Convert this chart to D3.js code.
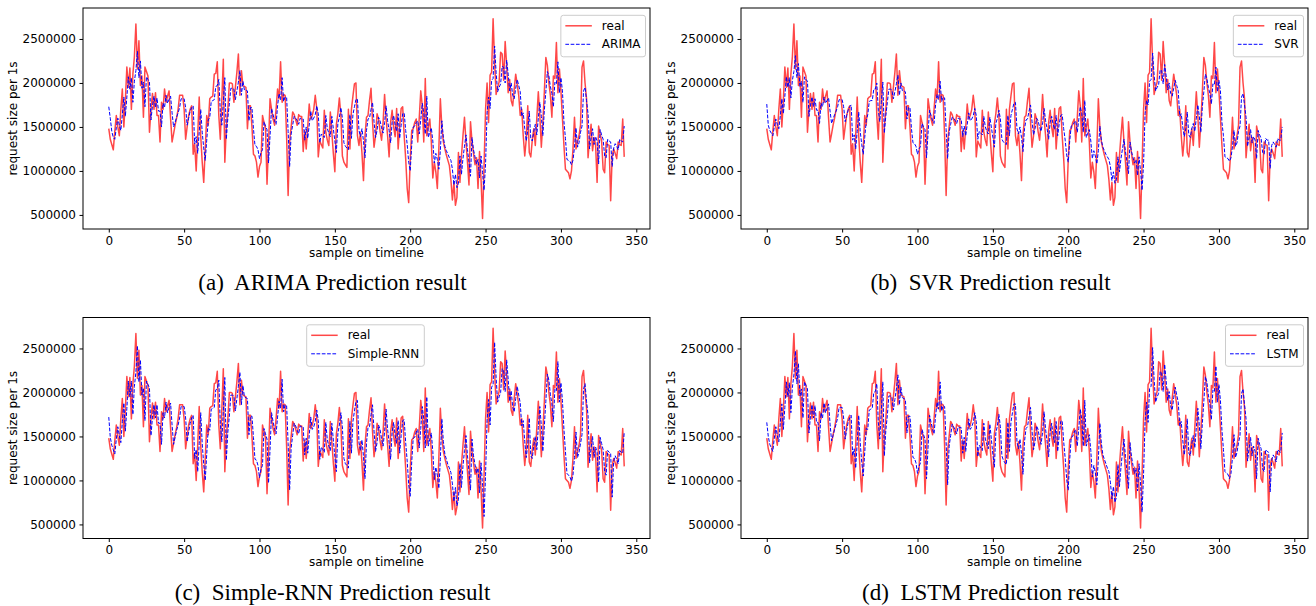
<!DOCTYPE html>
<html>
<head>
<meta charset="utf-8">
<script src="https://cdn.jsdelivr.net/npm/d3@7"></script>
<style>
  body { margin: 0; background: #fff; }
  text { font-family: "DejaVu Sans", sans-serif; }
</style>
</head>
<body>
<svg id="chart" width="1316" height="606"></svg>
<script>
// request size per 1s, in thousands (one value per sample)
var realK = [
  1480,1360,1300,1240,1450,1630,1500,1400,1700,1930,
  1500,1800,2180,1950,2170,1700,2100,2300,2670,2160,
  2480,1970,2080,1610,2180,2130,2080,1440,1700,1880,
  1700,1890,1630,1630,1330,1780,1700,1930,1780,1850,
  1910,1600,1330,1420,1520,1600,1700,1860,1860,1860,
  1700,1360,1500,1630,1700,1740,1190,1310,1000,1400,
  1840,1400,1100,870,1250,1630,1520,1820,1840,1850,
  2100,2110,2240,1630,1360,1800,2270,1100,1500,1700,
  2000,2000,1990,1780,1950,2120,2330,1860,2140,1970,1960,
  1950,1480,1740,1740,1500,1190,1170,1100,930,1050,
  1100,1630,1550,1480,850,1300,1820,1700,1590,1520,
  1700,1930,1820,2240,1780,1870,1860,1390,720,1330,
  1500,1670,1640,1580,1520,1640,1620,1620,1220,1460,
  1250,1500,1760,1590,1630,1700,1860,1710,1160,1340,
  1300,1260,1690,1440,1350,1290,1670,1440,1200,990,
  1530,1650,1830,1630,1170,1100,1070,1040,1700,1250,1700,
  1850,1990,2000,1400,1290,1440,1200,890,1400,1610,
  1630,1800,1940,1560,1270,1400,1650,1590,1450,1350,
  1550,1870,1590,1400,1160,1550,1690,1500,1390,1710,
  1250,1500,1710,1730,1400,1140,800,640,1120,1460,
  1480,1550,1590,1330,1600,1910,1740,1330,2050,1400,
  1500,1590,1330,920,1100,990,800,1250,1820,1500,
  1330,1250,1180,1120,1060,900,670,870,610,700,1210,
  870,1170,1400,1610,1330,1100,840,1560,1330,1200,
  1070,1150,800,1220,900,460,1060,1700,2000,1550,
  2090,2120,2730,2230,1870,1950,2010,2350,2330,2030,
  2470,2200,1890,2040,1800,1740,1930,2100,1980,1860,
  1630,1700,1400,1170,1360,1740,1210,1160,1350,1480,
  1290,1600,1900,1630,1270,1550,1900,2290,2200,2000,
  1860,1610,2080,2050,2460,1890,2160,1910,1600,1290,
  1020,1000,980,910,1000,1250,1610,1250,1330,1400,
  1520,2180,2250,2000,1820,1150,1360,1530,1230,1380,
  1300,870,1510,1420,1340,1020,980,1330,1300,1290,
  660,1170,1250,1200,1140,1330,1300,1290,1590,1160
];

var arimaK = [
  1730,1600,1450,1380,1360,1490,1600,1520,1460,1640,
  1840,1620,1840,2070,1930,2060,1780,2020,2140,2360,
  2060,2250,1940,2010,1730,2070,2040,2010,1580,1740,
  1850,1720,1830,1680,1680,1500,1770,1720,1860,1770,
  1810,1850,1660,1500,1550,1610,1660,1720,1820,1820,
  1820,1720,1520,1600,1680,1720,1740,1310,1390,1200,
  1440,1700,1440,1260,1120,1350,1580,1610,1790,1800,
  1810,1960,1970,2040,1680,1520,1780,2060,1360,1600,
  1760,1940,1940,1930,1810,1910,2010,2140,1860,2020,1920,
  1920,1910,1570,1720,1720,1480,1290,1280,1240,1140,
  1210,1240,1560,1510,1470,1090,1400,1710,1640,1570,
  1530,1740,1880,1810,2060,1790,1840,1840,1450,1050,
  1420,1520,1620,1600,1570,1530,1600,1590,1590,1350,
  1500,1370,1520,1680,1570,1600,1640,1740,1650,1320,
  1420,1400,1380,1630,1480,1430,1390,1620,1480,1340,
  1210,1540,1610,1720,1600,1320,1280,1260,1240,1640,1370,
  1640,1730,1810,1820,1460,1390,1480,1340,1150,1460,
  1590,1600,1700,1780,1560,1380,1460,1610,1570,1490,
  1430,1550,1740,1570,1460,1320,1550,1630,1520,1450,
  1650,1370,1520,1650,1660,1460,1300,1100,1000,1290,
  1500,1510,1550,1570,1420,1580,1770,1660,1420,1850,
  1380,1440,1490,1340,1090,1200,1130,1020,1230,1570,
  1380,1280,1230,1190,1150,1120,1020,840,960,810,860,
  1170,960,1140,1280,1410,1240,1100,940,1380,1240,
  1160,1080,1130,920,1170,980,780,1080,1660,1840,
  1710,2030,2050,2420,2120,1900,1950,1990,2190,2180,
  2000,2260,2100,1910,2000,1860,1820,1940,2040,1970,
  1900,1620,1660,1480,1340,1460,1680,1370,1340,1450,
  1530,1410,1600,1780,1620,1400,1690,1900,2130,2080,
  1960,1880,1730,2010,1990,2240,1890,2060,1910,1560,
  1370,1130,1120,1110,1070,1120,1270,1490,1270,1320,
  1440,1510,1910,1950,1800,1650,1250,1380,1480,1300,
  1390,1340,1080,1470,1410,1360,1170,1150,1360,1340,
  1330,1050,1260,1310,1280,1240,1360,1340,1330,1510
];

var svrK = [
  1760,1520,1460,1430,1400,1500,1590,1530,1480,1630,
  1820,1650,1850,2070,1950,2060,1830,2030,2130,2310,
  2060,2220,1960,2020,1780,2070,2040,2020,1620,1750,
  1840,1730,1820,1690,1690,1540,1770,1730,1840,1770,
  1800,1830,1680,1540,1590,1640,1680,1730,1810,1810,
  1810,1730,1560,1630,1690,1730,1750,1350,1410,1250,
  1450,1670,1450,1300,1190,1380,1570,1640,1790,1800,
  1800,1930,1930,2000,1690,1560,1780,2010,1430,1630,
  1780,1930,1930,1920,1820,1900,1990,2090,1860,2000,1910,
  1910,1900,1590,1720,1720,1480,1320,1310,1280,1190,
  1250,1280,1540,1500,1470,1150,1430,1690,1630,1570,
  1540,1750,1870,1810,2020,1790,1840,1830,1470,1140,
  1440,1530,1610,1600,1570,1540,1600,1590,1590,1390,
  1510,1400,1530,1660,1570,1590,1630,1710,1630,1360,
  1450,1430,1410,1620,1500,1450,1420,1610,1500,1380,
  1270,1540,1600,1690,1590,1360,1330,1310,1300,1630,1400,
  1630,1700,1770,1780,1480,1420,1500,1380,1220,1480,
  1580,1590,1680,1750,1560,1410,1480,1600,1570,1500,
  1450,1550,1710,1570,1480,1360,1550,1620,1530,1470,
  1630,1400,1530,1630,1640,1480,1350,1180,1100,1340,
  1510,1520,1550,1570,1440,1580,1730,1650,1440,1800,
  1380,1430,1470,1340,1140,1230,1170,1080,1230,1510,
  1350,1270,1230,1190,1160,1130,1050,890,990,860,900,
  1160,990,1140,1250,1360,1220,1100,970,1330,1220,
  1150,1090,1130,950,1160,1000,780,1080,1650,1800,
  1750,2020,2040,2340,2090,1910,1950,1980,2150,2140,
  1990,2210,2080,1920,2000,1880,1850,1940,2030,1970,
  1910,1620,1650,1500,1390,1480,1670,1410,1380,1480,
  1540,1450,1600,1750,1620,1440,1730,1900,2100,2050,
  1950,1880,1760,1990,1980,2180,1900,2030,1910,1550,
  1400,1160,1150,1140,1110,1150,1280,1460,1280,1320,
  1450,1510,1840,1880,1750,1610,1280,1380,1470,1320,
  1390,1350,1140,1460,1410,1370,1210,1190,1370,1350,
  1350,1030,1290,1330,1300,1270,1370,1350,1350,1500
];

var rnnK = [
  1720,1490,1400,1350,1300,1470,1610,1510,1430,1670,
  1880,1560,1820,2130,1950,2130,1750,2070,2230,2530,
  2120,2370,1970,2050,1680,2130,2090,2050,1510,1720,
  1860,1710,1860,1650,1650,1410,1770,1710,1890,1770,
  1830,1880,1630,1410,1490,1570,1630,1710,1840,1840,
  1840,1710,1440,1550,1650,1710,1740,1250,1350,1100,
  1420,1770,1420,1180,1000,1300,1600,1570,1810,1820,
  1830,2030,2040,2140,1650,1440,1790,2170,1230,1550,
  1730,1970,1970,1960,1790,1930,2070,2230,1860,2080,1950,
  1940,1930,1520,1730,1730,1490,1240,1230,1170,1030,
  1130,1170,1590,1530,1470,970,1350,1770,1670,1580,
  1530,1720,1900,1820,2150,1780,1860,1850,1420,890,
  1370,1510,1650,1620,1570,1530,1620,1610,1610,1290,
  1480,1310,1510,1720,1580,1610,1670,1800,1680,1240,
  1380,1350,1320,1660,1460,1390,1340,1650,1460,1270,
  1100,1530,1630,1770,1610,1250,1190,1170,1140,1670,1310,
  1670,1790,1900,1910,1430,1340,1460,1270,1020,1430,
  1600,1610,1750,1860,1560,1330,1430,1630,1580,1470,
  1390,1550,1810,1580,1430,1240,1550,1660,1510,1420,
  1680,1310,1510,1680,1690,1430,1220,950,820,1210,
  1480,1490,1550,1580,1370,1590,1840,1700,1370,1950,
  1390,1470,1540,1330,1010,1150,1060,910,1240,1700,
  1440,1300,1240,1180,1140,1090,960,760,920,710,780,
  1190,920,1160,1340,1510,1280,1100,890,1470,1280,
  1180,1080,1140,860,1200,940,590,1070,1680,1920,
  1630,2060,2090,2570,2170,1890,1950,2000,2270,2250,
  2010,2370,2150,1900,2020,1830,1780,1930,2070,1970,
  1880,1620,1680,1440,1260,1410,1710,1280,1250,1400,
  1500,1350,1600,1840,1620,1330,1620,1900,2210,2140,
  1980,1870,1670,2040,2020,2350,1890,2110,1910,1580,
  1330,1080,1060,1040,990,1060,1260,1550,1260,1320,
  1420,1520,2040,2100,1900,1740,1200,1370,1500,1260,
  1380,1320,980,1490,1420,1350,1100,1060,1340,1320,
  1310,810,1220,1280,1240,1190,1340,1320,1310,1550
];

var lstmK = [
  1660,1500,1410,1370,1330,1480,1610,1510,1440,1660,
  1870,1580,1830,2120,1950,2110,1770,2060,2200,2470,
  2100,2330,1960,2040,1710,2120,2080,2040,1540,1730,
  1860,1710,1850,1660,1660,1450,1770,1710,1880,1770,
  1820,1870,1640,1450,1510,1580,1640,1710,1830,1830,
  1830,1710,1470,1570,1660,1710,1740,1280,1360,1140,
  1430,1740,1430,1210,1050,1320,1590,1580,1800,1810,
  1820,2000,2010,2100,1660,1470,1790,2120,1280,1570,
  1740,1960,1960,1950,1800,1920,2040,2200,1860,2060,1940,
  1930,1920,1540,1730,1730,1490,1260,1250,1200,1080,
  1160,1200,1580,1520,1470,1020,1370,1740,1660,1580,
  1530,1730,1890,1810,2120,1790,1850,1840,1430,950,
  1390,1510,1640,1610,1570,1530,1610,1600,1600,1310,
  1490,1330,1510,1700,1580,1610,1660,1770,1670,1270,
  1400,1370,1340,1650,1470,1410,1360,1640,1470,1300,
  1150,1540,1620,1750,1610,1280,1230,1200,1180,1660,1330,
  1660,1770,1870,1870,1440,1360,1470,1300,1070,1440,
  1590,1610,1730,1830,1560,1350,1440,1620,1580,1480,
  1410,1550,1780,1580,1440,1270,1550,1650,1510,1430,
  1670,1330,1510,1670,1680,1440,1250,1010,890,1240,
  1490,1500,1550,1580,1390,1590,1810,1690,1390,1910,
  1390,1460,1520,1340,1040,1170,1090,950,1240,1650,
  1420,1290,1240,1190,1140,1100,980,790,930,750,810,
  1180,930,1150,1320,1470,1270,1100,910,1430,1270,
  1170,1080,1140,880,1190,960,640,1070,1670,1890,
  1660,2050,2070,2510,2150,1890,1950,1990,2240,2220,
  2010,2320,2130,1910,2010,1840,1800,1940,2060,1970,
  1890,1620,1670,1460,1290,1430,1700,1310,1280,1420,
  1510,1370,1600,1820,1620,1360,1650,1900,2180,2120,
  1970,1870,1690,2030,2010,2300,1890,2090,1910,1570,
  1350,1100,1080,1070,1020,1080,1260,1520,1260,1320,
  1430,1510,1990,2040,1860,1700,1220,1370,1490,1280,
  1390,1330,1020,1480,1410,1360,1130,1100,1350,1330,
  1320,870,1230,1290,1260,1210,1350,1330,1320,1540
];

var xTicks = [0, 50, 100, 150, 200, 250, 300, 350];
var yTicks = [500000, 1000000, 1500000, 2000000, 2500000];

var svg = d3.select("#chart");
var panelW = 567, panelH = 221;

var panels = [
  {pred: arimaK, name: "ARIMA", caption: "(a)\u00a0 ARIMA Prediction result", left: 83, top: 8},
  {pred: svrK, name: "SVR", caption: "(b)\u00a0 SVR Prediction result", left: 741, top: 8},
  {pred: rnnK, name: "Simple-RNN", caption: "(c)\u00a0 Simple-RNN Prediction result", left: 83, top: 317.5, legendX: 223.7},
  {pred: lstmK, name: "LSTM", caption: "(d)\u00a0 LSTM Prediction result", left: 741, top: 317.5}
];

panels.forEach(drawPanel);

function drawPanel(p) {
  var g = svg.append("g")
    .attr("transform", "translate(" + p.left + "," + p.top + ")");

  var x = d3.scaleLinear().domain([-17.1, 359.1]).range([0, panelW]);
  var y = d3.scaleLinear().domain([340000, 2852000]).range([panelH, 0]);

  var line = d3.line()
    .x(function (d, i) { return x(i); })
    .y(function (d) { return y(d * 1000); });

  g.append("path")
    .datum(realK)
    .attr("d", line)
    .attr("fill", "none")
    .attr("stroke", "#ff0000")
    .attr("stroke-opacity", 0.72)
    .attr("stroke-width", 1.5)
    .attr("stroke-linejoin", "round");

  g.append("path")
    .datum(p.pred)
    .attr("d", line)
    .attr("fill", "none")
    .attr("stroke", "#0000ff")
    .attr("stroke-width", 1)
    .attr("stroke-dasharray", "3.7,1.6");

  // frame
  g.append("rect")
    .attr("width", panelW)
    .attr("height", panelH)
    .attr("fill", "none")
    .attr("stroke", "#000")
    .attr("stroke-width", 1);

  var xAxis = d3.axisBottom(x).tickValues(xTicks).tickSize(3.5).tickPadding(3.5);
  var yAxis = d3.axisLeft(y).tickValues(yTicks).tickSize(3.5).tickPadding(3.5)
    .tickFormat(d3.format("d"));

  var gx = g.append("g").attr("transform", "translate(0," + panelH + ")").call(xAxis);
  var gy = g.append("g").call(yAxis);
  [gx, gy].forEach(function (a) {
    a.select(".domain").remove();
    a.selectAll("line").attr("stroke", "#000");
    a.selectAll("text").attr("fill", "#000").style("font-size", "12px")
      .style("font-family", "'DejaVu Sans', sans-serif");
  });

  g.append("text")
    .attr("x", panelW / 2)
    .attr("y", panelH + 27.5)
    .attr("text-anchor", "middle")
    .style("font-size", "12px")
    .text("sample on timeline");

  g.append("text")
    .attr("transform", "rotate(-90)")
    .attr("x", -panelH / 2)
    .attr("y", -66.5)
    .attr("text-anchor", "middle")
    .style("font-size", "12px")
    .text("request size per 1s");

  // legend
  var lg = g.append("g");
  var box = lg.append("rect")
    .attr("rx", 2.5).attr("ry", 2.5)
    .attr("fill", "#fff").attr("fill-opacity", 0.8)
    .attr("stroke", "#cccccc").attr("stroke-width", 1);
  var t1 = lg.append("text").attr("x", 41).attr("y", 10.5).attr("dy", "0.35em")
    .style("font-size", "12px").text("real");
  var t2 = lg.append("text").attr("x", 41).attr("y", 29).attr("dy", "0.35em")
    .style("font-size", "12px").text(p.name);
  lg.append("line").attr("x1", 4.5).attr("x2", 31).attr("y1", 10.5).attr("y2", 10.5)
    .attr("stroke", "#ff0000").attr("stroke-opacity", 0.72).attr("stroke-width", 1.5);
  lg.append("line").attr("x1", 4.5).attr("x2", 31).attr("y1", 29).attr("y2", 29)
    .attr("stroke", "#0000ff").attr("stroke-width", 1).attr("stroke-dasharray", "3.7,1.6");

  var textW = Math.max(t1.node().getComputedTextLength(), t2.node().getComputedTextLength());
  var boxW = 41 + textW + 5;
  box.attr("width", boxW).attr("height", 41.5);
  var lx = p.legendX != null ? p.legendX : panelW - 4.5 - boxW;
  lg.attr("transform", "translate(" + lx + ",7.3)");

  // caption below the panel
  svg.append("text")
    .attr("x", p.left + 249.5)
    .attr("y", p.top + 282)
    .attr("text-anchor", "middle")
    .style("font-family", "'Liberation Serif', 'Times New Roman', serif")
    .style("font-size", "23px")
    .text(p.caption);
}
</script>
</body>
</html>
